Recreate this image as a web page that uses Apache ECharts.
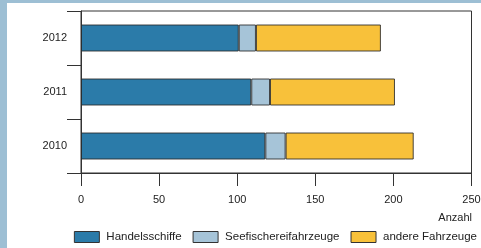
<!DOCTYPE html>
<html>
<head>
<meta charset="utf-8">
<script src="https://cdn.jsdelivr.net/npm/echarts@6/dist/echarts.min.js"></script>
<style>
  html, body { margin: 0; padding: 0; }
  body { width: 481px; height: 248px; background: #9dbfd4; position: relative; overflow: hidden; }
  .panel { position: absolute; left: 7px; top: 3px; width: 474px; height: 245px; background: #fff; }
  #chart { position: absolute; left: 0; top: 0; width: 481px; height: 248px; }
</style>
</head>
<body>
<div class="panel"></div>
<div id="chart"></div>
<script>
const years = ["2010", "2011", "2012"];
const handelsschiffe = [118, 109, 101];
const seefischerei = [13, 12, 11];
const andere = [82, 80, 80];
const xTicks = [0, 50, 100, 150, 200, 250];

const chart = echarts.init(document.getElementById("chart"));
const font = "Liberation Sans, Arial, sans-serif";
const barBorder = { borderColor: "rgba(40,40,40,0.85)", borderWidth: 1 };

const option = {
  backgroundColor: "transparent",
  animation: false,
  textStyle: { fontFamily: font },
  title: {
    text: "Anzahl",
    right: 9,
    top: 212,
    padding: 0,
    textStyle: { fontSize: 11, fontWeight: "normal", color: "#222", fontFamily: font },
  },
  legend: {
    right: 4,
    top: 231,
    padding: 0,
    itemWidth: 25,
    itemHeight: 11,
    itemGap: 11,
    icon: "rect",
    itemStyle: { borderColor: "#333", borderWidth: 1 },
    textStyle: { fontSize: 11.5, color: "#222", fontFamily: font, padding: [0, 0, 0, 2] },
    data: ["Handelsschiffe", "Seefischereifahrzeuge", "andere Fahrzeuge"],
  },
  grid: {
    left: 81,
    right: 9.5,
    top: 11,
    bottom: 75,
    show: true,
    borderColor: "#333",
    borderWidth: 1,
    containLabel: false,
    outerBoundsMode: "none",
  },
  xAxis: {
    type: "value",
    min: xTicks[0],
    max: xTicks[xTicks.length - 1],
    interval: 50,
    splitLine: { show: false },
    axisLine: { show: true, lineStyle: { color: "#333" } },
    axisTick: { show: true, length: 13, lineStyle: { color: "#333" } },
    axisLabel: { margin: 21, fontSize: 11, color: "#222", fontFamily: font },
  },
  yAxis: {
    type: "category",
    data: years,
    axisLine: { show: true, lineStyle: { color: "#333" } },
    axisTick: { show: true, length: 14, lineStyle: { color: "#333" } },
    axisLabel: { margin: 14, fontSize: 11, color: "#222", fontFamily: font },
  },
  series: [
    {
      name: "Handelsschiffe",
      type: "bar",
      stack: "total",
      barWidth: 27,
      data: handelsschiffe,
      itemStyle: Object.assign({ color: "#2b7ba9" }, barBorder),
    },
    {
      name: "Seefischereifahrzeuge",
      type: "bar",
      stack: "total",
      barWidth: 27,
      data: seefischerei,
      itemStyle: Object.assign({ color: "#a6c4d8" }, barBorder),
    },
    {
      name: "andere Fahrzeuge",
      type: "bar",
      stack: "total",
      barWidth: 27,
      data: andere,
      itemStyle: Object.assign({ color: "#f8c13a" }, barBorder),
    },
  ],
};

chart.setOption(option);
</script>
</body>
</html>
